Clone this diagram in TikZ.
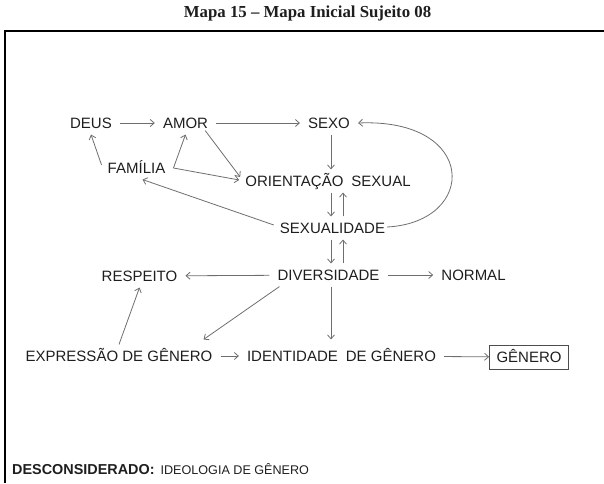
\documentclass[tikz,border=0pt]{standalone}
\usepackage{fontspec}
\setmainfont{Liberation Sans}
\newfontfamily\titlefont{Liberation Serif}
\usetikzlibrary{arrows.meta,calc}
\definecolor{txt}{HTML}{1E1E1E}
\definecolor{arr}{HTML}{6E6E6E}
\begin{document}
\begin{tikzpicture}[x=1pt,y=-1pt,
  concept/.style={font=\fontsize{15}{18}\selectfont, text=txt, inner xsep=8pt, inner ysep=6pt, text height=10.7pt, text depth=0pt},
  link/.style={draw=arr, line width=0.8pt, -{Straight Barb[length=4pt,width=7pt]}}]
\useasboundingbox (0,0) rectangle (604,483);
\draw[line width=1.5pt] (604,31) -- (5,31) -- (5,483);

\node[font=\titlefont\bfseries\fontsize{16.8}{20}\selectfont, text=txt] (title) at (307.5,13) {Mapa 15 – Mapa Inicial Sujeito 08};

\node[concept] (deus) at (91,123) {DEUS};
\node[concept] (amor) at (185.5,123) {AMOR};
\node[concept] (sexo) at (329,123) {SEXO};
\node[concept] (familia) at (136.5,168) {FAMÍLIA};
\node[concept] (orient) at (328,181) {ORIENTAÇÃO\hspace{8pt}SEXUAL};
\node[concept] (sexualidade) at (332.5,228) {SEXUALIDADE};
\node[concept] (diversidade) at (328.5,275) {DIVERSIDADE};
\node[concept] (respeito) at (139.5,276) {RESPEITO};
\node[concept] (normal) at (473.5,275) {NORMAL};
\node[concept] (expr) at (119,356) {EXPRESSÃO DE GÊNERO};
\node[concept] (ident) at (341.5,356) {IDENTIDADE\hspace{8pt}DE GÊNERO};
\node[concept, draw=arr!70!black, line width=0.8pt, inner xsep=7pt, minimum height=24pt] (genero) at (529,357) {GÊNERO};

\node[anchor=base west, inner sep=0pt, text=txt] (desc) at (12,474) {\fontsize{14.4}{17}\selectfont\bfseries DESCONSIDERADO:\hspace{6pt}\fontsize{12.6}{15}\selectfont\mdseries IDEOLOGIA DE GÊNERO};

\draw[link] (deus) -- (amor);
\draw[link] (amor) -- (sexo);
\draw[link] ($(familia.west)+(2,-3)$) -- (deus.south);
\draw[link] (familia.east) -- (amor.south);
\draw[link] (familia.east) -- ($(orient.west)+(2,-1)$);
\draw[link] ($(amor.south east)+(-11,-4)$) -- ($(orient.west)+(3,-4)$);
\draw[link] (sexo.south -| 331,0) -- (orient.north -| 331,0);
\draw[link] (orient.south -| 331,0) -- (sexualidade.north -| 331,0);
\draw[link] (sexualidade.north -| 343,0) -- (orient.south -| 343,0);
\draw[link] (sexualidade.south -| 331,0) -- (diversidade.north -| 331,0);
\draw[link] (diversidade.north -| 343,0) -- (sexualidade.south -| 343,0);
\draw[link] ($(sexualidade.west)+(2,-3)$) -- ($(familia.south)+(6,0)$);
\draw[link] ($(sexualidade.east)+(-6,-1)$) .. controls (478,222) and (478,118) .. (sexo.east);
\draw[link] (diversidade) -- (respeito);
\draw[link] (diversidade) -- (normal);
\draw[link] ($(diversidade.south west)+(10,0)$) -- ($(expr.north east)+(-17,-5)$);
\draw[link] (diversidade.south -| 331,0) -- ($(ident.north -| 331,0)+(0,-5)$);
\draw[link] (expr) -- (ident);
\draw[link] (expr.north) -- (respeito.south);
\draw[link] (ident) -- (genero);
\end{tikzpicture}
\end{document}
